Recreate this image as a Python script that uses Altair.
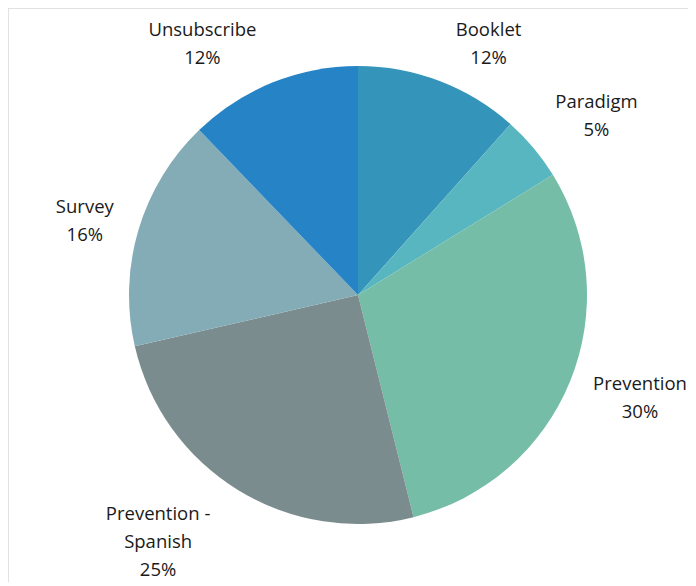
import altair as alt
import pandas as pd

categories = ["Booklet", "Paradigm", "Prevention", "Prevention - Spanish", "Survey", "Unsubscribe"]
values = [11.6, 4.6, 29.9, 25.3, 16.4, 12.2]
label_names = ["Booklet", "Paradigm", "Prevention", "Prevention -\nSpanish", "Survey", "Unsubscribe"]
colors = ["#3494BA", "#58B6C0", "#75BDA7", "#7A8C8E", "#84ACB6", "#2683C6"]

total = sum(values)
df = pd.DataFrame({
    "category": categories,
    "value": values,
    "order": list(range(len(categories))),
})
df["label"] = [f"{n}\n{round(v / total * 100):.0f}%" for n, v in zip(label_names, values)]

W, H = 680, 574
CX, CY = 350, 287
R = 229
LABEL_R = 285

# label nudges (pixels) relative to mid-angle anchor
nudges = {
    "Booklet": (29, 1),
    "Paradigm": (20, -10),
    "Prevention": (18, -18),
    "Prevention - Spanish": (-51, -24),
    "Survey": (0, -7),
    "Unsubscribe": (-49, -1),
}

theta_scale = alt.Scale(domain=[0, total])
color_scale = alt.Scale(domain=categories, range=colors)

base = alt.Chart(df)

arcs = base.mark_arc(outerRadius=R, stroke=None).encode(
    theta=alt.Theta("value:Q", stack=True, scale=theta_scale),
    color=alt.Color("category:N", scale=color_scale, legend=None),
    order=alt.Order("order:Q"),
    x=alt.value(CX),
    y=alt.value(CY),
)

label_base = base.transform_window(
    cum="sum(value)", sort=[alt.SortField("order")], frame=[None, 0]
).transform_calculate(mid="datum.cum - datum.value / 2")

text_layers = []
for cat in categories:
    dx, dy = nudges[cat]
    t = label_base.transform_filter(alt.datum.category == cat).mark_text(
        radius=LABEL_R,
        dx=dx,
        dy=dy,
        lineBreak="\n",
        lineHeight=28,
        font="Open Sans",
        fontSize=18.5,
        color="#1a1a1a",
        align="center",
        baseline="middle",
    ).encode(
        theta=alt.Theta("mid:Q", stack=None, scale=theta_scale),
        text="label:N",
        x=alt.value(CX),
        y=alt.value(CY),
    )
    text_layers.append(t)

frame_data = alt.Data(values=[{"k": 1}])
left_line = alt.Chart(frame_data).mark_rule(color="#d9d9d9", strokeWidth=1.5).encode(
    x=alt.value(0), y=alt.value(0), y2=alt.value(H)
)
top_line = alt.Chart(frame_data).mark_rule(color="#d9d9d9", strokeWidth=1.5).encode(
    x=alt.value(0), x2=alt.value(W), y=alt.value(0)
)

chart = alt.layer(left_line, top_line, arcs, *text_layers).properties(
    width=W, height=H, autosize=alt.AutoSizeParams(type="none"), padding=0
).configure_view(stroke=None).resolve_scale(theta="shared")

chart.save("out.html", embed_options={"renderer": "svg", "actions": False})
